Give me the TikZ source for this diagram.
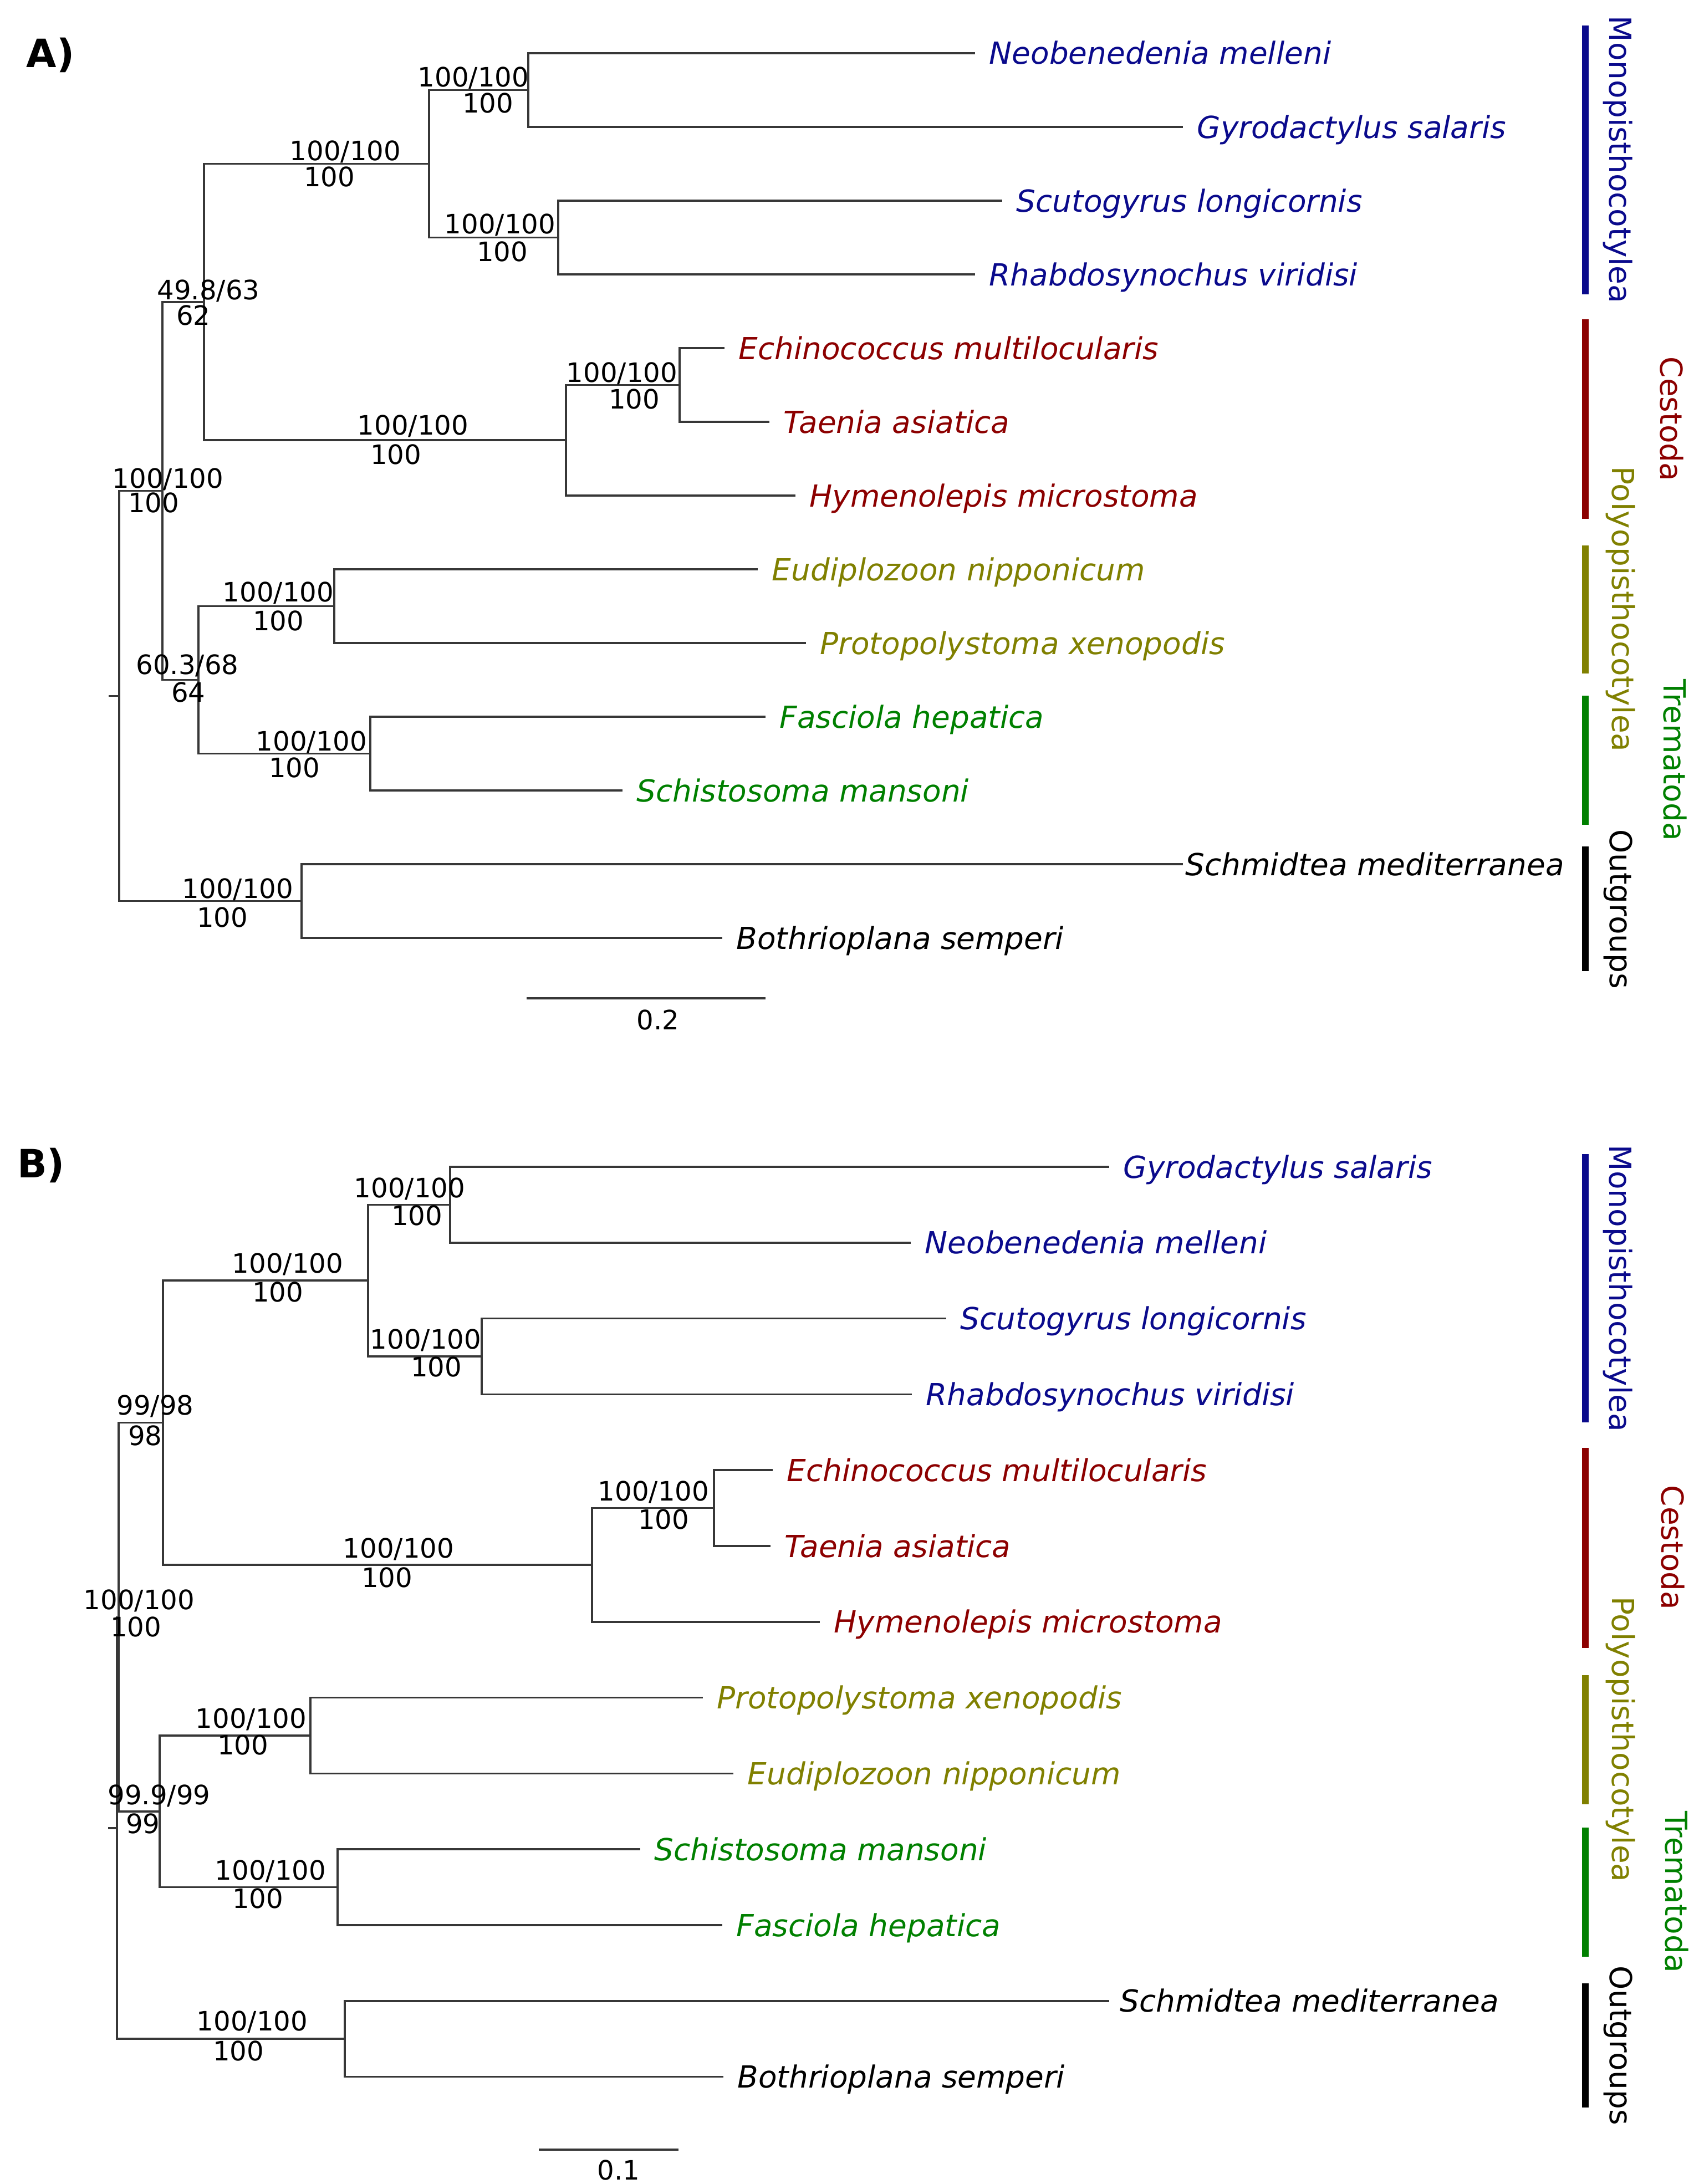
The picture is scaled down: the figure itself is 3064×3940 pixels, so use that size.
\documentclass[tikz,border=0pt]{standalone}
\usepackage{fontspec}
\setmainfont{DejaVu Sans}
\definecolor{monoblue}{RGB}{10,10,140}
\definecolor{cestred}{RGB}{140,0,0}
\definecolor{polyolive}{RGB}{128,128,0}
\definecolor{tremgreen}{RGB}{0,128,0}
\definecolor{branchgray}{RGB}{55,55,55}
\tikzset{
  branch/.style={color=branchgray, line width=1pt},
  taxon/.style={anchor=base west, inner sep=0pt, xshift=0.25cm, yshift=-0.2cm,
    font=\fontsize{15.6}{18}\selectfont\itshape},
  support/.style={inner sep=0pt, font=\fontsize{13.7}{16}\selectfont},
  cladebar/.style={line width=3.4pt},
  cladename/.style={rotate=-90, inner sep=0pt, font=\fontsize{15.6}{18}\selectfont},
  panel/.style={inner sep=0pt, font=\fontsize{20}{24}\selectfont\bfseries},
  scalebar/.style={color=branchgray, line width=1pt}
}
\begin{document}
\begin{tikzpicture}[x=0.01cm, y=-0.01cm]
  \useasboundingbox (0,0) rectangle (3064,3940);

  % ---------------- panel A ----------------
  \node[panel] (pA) at (91,99) {A)};

  % tips
  \coordinate (a_neo) at (1759,96);
  \coordinate (a_gyr) at (2134,229);
  \coordinate (a_scu) at (1808,362);
  \coordinate (a_rha) at (1759,495);
  \coordinate (a_ech) at (1307,628);
  \coordinate (a_tae) at (1388,761);
  \coordinate (a_hym) at (1435,894);
  \coordinate (a_eud) at (1367,1027);
  \coordinate (a_pro) at (1454,1160);
  \coordinate (a_fas) at (1381,1293);
  \coordinate (a_sch) at (1123,1426);
  \coordinate (a_smd) at (2134,1559);
  \coordinate (a_bot) at (1303,1692);

  % inner nodes
  \coordinate (a_ng) at (953,162.5);
  \coordinate (a_sr) at (1007,428.5);
  \coordinate (a_mono) at (774,295.5);
  \coordinate (a_et) at (1226,694.5);
  \coordinate (a_ces) at (1021,794.25);
  \coordinate (a_mc) at (368,544.9);
  \coordinate (a_ep) at (603,1093.5);
  \coordinate (a_fs) at (668,1359.5);
  \coordinate (a_pt) at (358,1226.5);
  \coordinate (a_in) at (293,885.7);
  \coordinate (a_out) at (544,1625.5);
  \coordinate (a_root) at (215,1255.6);
  \coordinate (a_stub) at (196,1255.6);

  \begin{scope}[branch]
    \draw (a_stub) -- (a_root);
    \draw (a_root) |- (a_in);
    \draw (a_root) |- (a_out);
    \draw (a_in) |- (a_mc);
    \draw (a_in) |- (a_pt);
    \draw (a_mc) |- (a_mono);
    \draw (a_mc) |- (a_ces);
    \draw (a_mono) |- (a_ng);
    \draw (a_mono) |- (a_sr);
    \draw (a_ng) |- (a_neo);
    \draw (a_ng) |- (a_gyr);
    \draw (a_sr) |- (a_scu);
    \draw (a_sr) |- (a_rha);
    \draw (a_ces) |- (a_et);
    \draw (a_ces) |- (a_hym);
    \draw (a_et) |- (a_ech);
    \draw (a_et) |- (a_tae);
    \draw (a_pt) |- (a_ep);
    \draw (a_pt) |- (a_fs);
    \draw (a_ep) |- (a_eud);
    \draw (a_ep) |- (a_pro);
    \draw (a_fs) |- (a_fas);
    \draw (a_fs) |- (a_sch);
    \draw (a_out) |- (a_smd);
    \draw (a_out) |- (a_bot);
  \end{scope}

  % taxa
  \node[taxon, text=monoblue] (a_neo_n) at (a_neo) {Neobenedenia melleni};
  \node[taxon, text=monoblue] (a_gyr_n) at (a_gyr) {Gyrodactylus salaris};
  \node[taxon, text=monoblue] (a_scu_n) at (a_scu) {Scutogyrus longicornis};
  \node[taxon, text=monoblue] (a_rha_n) at (a_rha) {Rhabdosynochus viridisi};
  \node[taxon, text=cestred] (a_ech_n) at (a_ech) {Echinococcus multilocularis};
  \node[taxon, text=cestred] (a_tae_n) at (a_tae) {Taenia asiatica};
  \node[taxon, text=cestred] (a_hym_n) at (a_hym) {Hymenolepis microstoma};
  \node[taxon, text=polyolive] (a_eud_n) at (a_eud) {Eudiplozoon nipponicum};
  \node[taxon, text=polyolive] (a_pro_n) at (a_pro) {Protopolystoma xenopodis};
  \node[taxon, text=tremgreen] (a_fas_n) at (a_fas) {Fasciola hepatica};
  \node[taxon, text=tremgreen] (a_sch_n) at (a_sch) {Schistosoma mansoni};
  \node[taxon, xshift=-0.21cm] (a_smd_n) at (a_smd) {Schmidtea mediterranea};
  \node[taxon] (a_bot_n) at (a_bot) {Bothrioplana semperi};

  % support values
  \node[support] (a_ng_t) at (854,141) {100/100};
  \node[support] (a_ng_b) at (880,186) {100};
  \node[support] (a_mono_t) at (623,274) {100/100};
  \node[support] (a_mono_b) at (594,319) {100};
  \node[support] (a_sr_t) at (902,406) {100/100};
  \node[support] (a_sr_b) at (906,454) {100};
  \node[support] (a_mc_t) at (376,525) {49.8/63};
  \node[support] (a_mc_b) at (349,569) {62};
  \node[support] (a_et_t) at (1122,674) {100/100};
  \node[support] (a_et_b) at (1144,720) {100};
  \node[support] (a_ces_t) at (745,769) {100/100};
  \node[support] (a_ces_b) at (714,820) {100};
  \node[support] (a_in_t) at (303,865) {100/100};
  \node[support] (a_in_b) at (277,907) {100};
  \node[support] (a_ep_t) at (502,1070) {100/100};
  \node[support] (a_ep_b) at (502,1120) {100};
  \node[support] (a_pt_t) at (338,1201) {60.3/68};
  \node[support] (a_pt_b) at (340,1249) {64};
  \node[support] (a_fs_t) at (562,1339) {100/100};
  \node[support] (a_fs_b) at (531,1385) {100};
  \node[support] (a_out_t) at (429,1605) {100/100};
  \node[support] (a_out_b) at (401,1655) {100};

  % scale
  \draw[scalebar] (950,1801) -- (1381,1801);
  \node[support] (a_scale) at (1187,1840) {0.2};

  % clades
  \draw[cladebar, monoblue] (2860,46) -- (2860,531);
  \draw[cladebar, cestred] (2860,576) -- (2860,936);
  \draw[cladebar, polyolive] (2860,984) -- (2860,1215);
  \draw[cladebar, tremgreen] (2860,1255) -- (2860,1488);
  \draw[cladebar, black] (2860,1527) -- (2860,1752);
  \node[cladename, text=monoblue] (a_mono_g) at (2919,288) {Monopisthocotylea};
  \node[cladename, text=cestred] (a_ces_g) at (3016,756) {Cestoda};
  \node[cladename, text=polyolive] (a_poly_g) at (2924,1099) {Polyopisthocotylea};
  \node[cladename, text=tremgreen] (a_trem_g) at (3022,1371) {Trematoda};
  \node[cladename] (a_out_g) at (2919,1640) {Outgroups};

  % ---------------- panel B ----------------
  \node[panel] (pB) at (74,2102) {B)};

  % tips
  \coordinate (b_gyr) at (2001,2105);
  \coordinate (b_neo) at (1643,2241.8);
  \coordinate (b_scu) at (1707,2378.6);
  \coordinate (b_rha) at (1645,2515.4);
  \coordinate (b_ech) at (1394,2652.2);
  \coordinate (b_tae) at (1390,2789);
  \coordinate (b_hym) at (1479,2925.8);
  \coordinate (b_pro) at (1268,3062.6);
  \coordinate (b_eud) at (1323,3199.4);
  \coordinate (b_sch) at (1155,3336.2);
  \coordinate (b_fas) at (1303,3473);
  \coordinate (b_smd) at (2001,3609.8);
  \coordinate (b_bot) at (1305,3746.6);

  % inner nodes
  \coordinate (b_gn) at (812,2173.4);
  \coordinate (b_sr) at (869,2447);
  \coordinate (b_mono) at (664,2310.2);
  \coordinate (b_et) at (1288,2720.6);
  \coordinate (b_ces) at (1068,2823.2);
  \coordinate (b_mc) at (294,2566.7);
  \coordinate (b_pe) at (560,3131);
  \coordinate (b_sf) at (609,3404.6);
  \coordinate (b_pt) at (288,3267.8);
  \coordinate (b_in) at (214,2917.3);
  \coordinate (b_out) at (622,3678.2);
  \coordinate (b_root) at (211,3297.8);
  \coordinate (b_stub) at (195,3297.8);

  \begin{scope}[branch]
    \draw (b_stub) -- (b_root);
    \draw (b_root) |- (b_in);
    \draw (b_root) |- (b_out);
    \draw (b_in) |- (b_mc);
    \draw (b_in) |- (b_pt);
    \draw (b_mc) |- (b_mono);
    \draw (b_mc) |- (b_ces);
    \draw (b_mono) |- (b_gn);
    \draw (b_mono) |- (b_sr);
    \draw (b_gn) |- (b_gyr);
    \draw (b_gn) |- (b_neo);
    \draw (b_sr) |- (b_scu);
    \draw (b_sr) |- (b_rha);
    \draw (b_ces) |- (b_et);
    \draw (b_ces) |- (b_hym);
    \draw (b_et) |- (b_ech);
    \draw (b_et) |- (b_tae);
    \draw (b_pt) |- (b_pe);
    \draw (b_pt) |- (b_sf);
    \draw (b_pe) |- (b_pro);
    \draw (b_pe) |- (b_eud);
    \draw (b_sf) |- (b_sch);
    \draw (b_sf) |- (b_fas);
    \draw (b_out) |- (b_smd);
    \draw (b_out) |- (b_bot);
  \end{scope}

  % taxa
  \node[taxon, text=monoblue] (b_gyr_n) at (b_gyr) {Gyrodactylus salaris};
  \node[taxon, text=monoblue] (b_neo_n) at (b_neo) {Neobenedenia melleni};
  \node[taxon, text=monoblue] (b_scu_n) at (b_scu) {Scutogyrus longicornis};
  \node[taxon, text=monoblue] (b_rha_n) at (b_rha) {Rhabdosynochus viridisi};
  \node[taxon, text=cestred] (b_ech_n) at (b_ech) {Echinococcus multilocularis};
  \node[taxon, text=cestred] (b_tae_n) at (b_tae) {Taenia asiatica};
  \node[taxon, text=cestred] (b_hym_n) at (b_hym) {Hymenolepis microstoma};
  \node[taxon, text=polyolive] (b_pro_n) at (b_pro) {Protopolystoma xenopodis};
  \node[taxon, text=polyolive] (b_eud_n) at (b_eud) {Eudiplozoon nipponicum};
  \node[taxon, text=tremgreen] (b_sch_n) at (b_sch) {Schistosoma mansoni};
  \node[taxon, text=tremgreen] (b_fas_n) at (b_fas) {Fasciola hepatica};
  \node[taxon, xshift=-0.06cm] (b_smd_n) at (b_smd) {Schmidtea mediterranea};
  \node[taxon] (b_bot_n) at (b_bot) {Bothrioplana semperi};

  % support values
  \node[support] (b_gn_t) at (739,2145) {100/100};
  \node[support] (b_gn_b) at (752,2193) {100};
  \node[support] (b_mono_t) at (519,2281) {100/100};
  \node[support] (b_mono_b) at (501,2331) {100};
  \node[support] (b_sr_t) at (768,2418) {100/100};
  \node[support] (b_sr_b) at (787,2466) {100};
  \node[support] (b_mc_t) at (280,2537) {99/98};
  \node[support] (b_mc_b) at (262,2590) {98};
  \node[support] (b_et_t) at (1179,2692) {100/100};
  \node[support] (b_et_b) at (1197,2741) {100};
  \node[support] (b_ces_t) at (719,2795) {100/100};
  \node[support] (b_ces_b) at (698,2846) {100};
  \node[support] (b_in_t) at (251,2888) {100/100};
  \node[support] (b_in_b) at (245,2935) {100};
  \node[support] (b_pe_t) at (453,3102) {100/100};
  \node[support] (b_pe_b) at (438,3148) {100};
  \node[support] (b_pt_t) at (287,3240) {99.9/99};
  \node[support] (b_pt_b) at (258,3290) {99};
  \node[support] (b_sf_t) at (488,3376) {100/100};
  \node[support] (b_sf_b) at (465,3425) {100};
  \node[support] (b_out_t) at (455,3648) {100/100};
  \node[support] (b_out_b) at (430,3700) {100};

  % scale
  \draw[scalebar] (972,3878) -- (1224,3878);
  \node[support] (b_scale) at (1116,3915) {0.1};

  % clades
  \draw[cladebar, monoblue] (2860,2082) -- (2860,2566);
  \draw[cladebar, cestred] (2860,2612) -- (2860,2973);
  \draw[cladebar, polyolive] (2860,3022) -- (2860,3255);
  \draw[cladebar, tremgreen] (2860,3297) -- (2860,3530);
  \draw[cladebar, black] (2860,3578) -- (2860,3802);
  \node[cladename, text=monoblue] (b_mono_g) at (2919,2324) {Monopisthocotylea};
  \node[cladename, text=cestred] (b_ces_g) at (3018,2792) {Cestoda};
  \node[cladename, text=polyolive] (b_poly_g) at (2924,3138) {Polyopisthocotylea};
  \node[cladename, text=tremgreen] (b_trem_g) at (3025,3413) {Trematoda};
  \node[cladename] (b_out_g) at (2919,3690) {Outgroups};
\end{tikzpicture}
\end{document}
